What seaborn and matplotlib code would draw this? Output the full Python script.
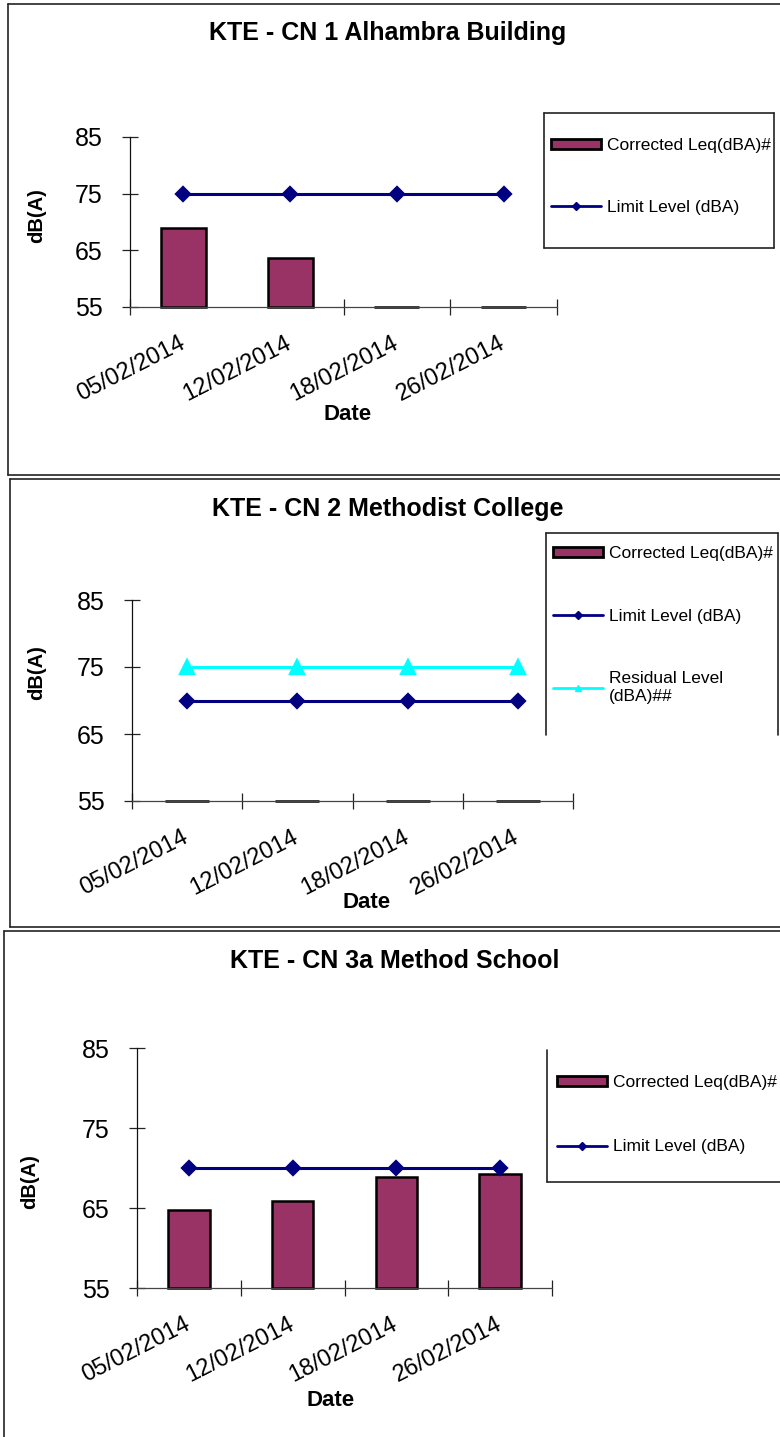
import seaborn as sns
import matplotlib.pyplot as plt
from matplotlib.lines import Line2D
from matplotlib.patches import Patch

sns.set_theme(style='white')
plt.rcParams['font.family'] = ['Liberation Sans', 'DejaVu Sans']
plt.rcParams['text.color'] = 'black'
plt.rcParams['xtick.color'] = 'black'
plt.rcParams['ytick.color'] = 'black'

# data
dates = ['05/02/2014', '12/02/2014', '18/02/2014', '26/02/2014']
cn1_leq = [69.0, 63.7, 55.0, 55.0]
cn1_limit = [75, 75, 75, 75]
cn2_leq = [55.0, 55.0, 55.0, 55.0]
cn2_limit = [70, 70, 70, 70]
cn2_residual = [75, 75, 75, 75]
cn3_leq = [64.8, 65.9, 68.9, 69.2]
cn3_limit = [70, 70, 70, 70]
yticks = [55, 65, 75, 85]
titles = ['KTE - CN 1 Alhambra Building', 'KTE - CN 2 Methodist College', 'KTE - CN 3a Method School']
leg_labels = ['Corrected Leq(dBA)#', 'Limit Level (dBA)', 'Residual Level\n(dBA)##']

W, H = 780, 1437
bar_col = '#993366'
limit_col = '#000080'
resid_col = '#00FFFF'

fig = plt.figure(figsize=(W / 100, H / 100), dpi=100)


def fx(px):
    return px / W


def fy(py):
    return 1 - py / H


def seg(x0, y0, x1, y1, lw=1.2, color='#222222'):
    fig.add_artist(Line2D([fx(x0), fx(x1)], [fy(y0), fy(y1)], transform=fig.transFigure,
                          color=color, lw=lw))


def panel(box, leq, limit, residual, title, title_xy, ylab_xy, xlab_xy, bounds, bar_w,
          leg_xy, leg_space):
    l, t, r, b = box
    ax = fig.add_axes([fx(l), fy(b), fx(r) - fx(l), (b - t) / H])
    sns.barplot(x=dates, y=leq, color=bar_col, saturation=1, edgecolor='black',
                linewidth=1.8, width=bar_w, ax=ax)
    if residual is not None:
        sns.pointplot(x=dates, y=residual, color=resid_col, markers='^', markersize=10,
                      linewidth=2.2, errorbar=None, ax=ax)
    sns.pointplot(x=dates, y=limit, color=limit_col, markers='D', markersize=7,
                  linewidth=2.2, errorbar=None, ax=ax)
    ax.set_ylim(55, 85)
    ax.set_xlim(-0.5, 3.5)
    # bars start at the axis floor, like the spreadsheet chart
    for p in ax.patches:
        top = p.get_y() + p.get_height()
        p.set_y(55)
        p.set_height(top - 55)
        p.set_clip_on(False)
    ax.set_yticks(yticks)
    ax.set_yticklabels([str(v) for v in yticks], fontsize=18)
    ax.set_xticks(range(len(dates)))
    ax.set_xticklabels(dates, rotation=27, ha='right', va='center',
                       rotation_mode='anchor', fontsize=17)
    ax.set_xticks(bounds, minor=True)
    ax.tick_params(axis='x', which='major', length=0, pad=25, bottom=True)
    ax.tick_params(axis='x', which='minor', direction='inout', length=11.5, width=0.9,
                   color='#222222', bottom=True)
    ax.tick_params(axis='y', direction='inout', length=11.5, width=0.9, pad=14,
                   color='#222222', left=True)
    ax.set_xlabel('')
    ax.set_ylabel('')
    for s in ['top', 'right']:
        ax.spines[s].set_visible(False)
    ax.spines['left'].set_color('#111111')
    ax.spines['bottom'].set_color('#444444')
    ax.spines['left'].set_linewidth(0.9)
    ax.spines['bottom'].set_linewidth(0.9)

    fig.text(fx(title_xy[0]), fy(title_xy[1]), title, ha='center', va='center',
             fontsize=18, fontweight='bold')
    fig.text(fx(ylab_xy[0]), fy(ylab_xy[1]), 'dB(A)', ha='center', va='center',
             rotation=90, fontsize=14.5, fontweight='bold')
    fig.text(fx(xlab_xy[0]), fy(xlab_xy[1]), 'Date', ha='center', va='center',
             fontsize=16, fontweight='bold')

    handles = [Patch(facecolor=bar_col, edgecolor='black', linewidth=2),
               Line2D([], [], color=limit_col, lw=2, marker='D', markersize=4)]
    labels = leg_labels[:2]
    if residual is not None:
        handles.append(Line2D([], [], color=resid_col, lw=2, marker='^', markersize=5))
        labels = leg_labels
    fig.legend(handles, labels, loc='upper left', bbox_to_anchor=(fx(leg_xy[0]), fy(leg_xy[1])),
               frameon=False, fontsize=12.5, handlelength=2.9, handleheight=0.5,
               handletextpad=0.3, labelspacing=leg_space, borderpad=0, borderaxespad=0)
    return ax


panel((130, 137, 557, 307), cn1_leq, cn1_limit, None, titles[0], (388, 33), (37, 216),
      (348, 415), [-0.5, 1.5, 2.5, 3.5], 0.42, (551, 138), 2.7)
panel((132, 600, 573, 801), cn2_leq, cn2_limit, cn2_residual, titles[1], (388, 509),
      (37, 673), (367, 902), [-0.5, 0.5, 1.5, 2.5, 3.5], 0.4, (553, 546), 2.75)
panel((137, 1048, 552, 1288), cn3_leq, cn3_limit, None, titles[2], (395, 961), (30, 1182),
      (331, 1400), [-0.5, 0.5, 1.5, 2.5, 3.5], 0.4, (557, 1075), 2.85)

# panel frames
seg(8, 4, 780, 4)
seg(8, 4, 8, 475)
seg(8, 475, 780, 475)
seg(10, 479, 780, 479)
seg(10, 479, 10, 927)
seg(10, 927, 780, 927)
seg(4, 931, 780, 931)
seg(4, 931, 4, 1437)

# legend frames
seg(544, 113, 774, 113)
seg(544, 248, 774, 248)
seg(544, 113, 544, 248)
seg(774, 113, 774, 248)
seg(546, 533, 778, 533)
seg(546, 533, 546, 735)
seg(778, 533, 778, 735)
seg(547, 1050, 547, 1182)
seg(547, 1182, 780, 1182)

fig.savefig('out.png', dpi=100)
